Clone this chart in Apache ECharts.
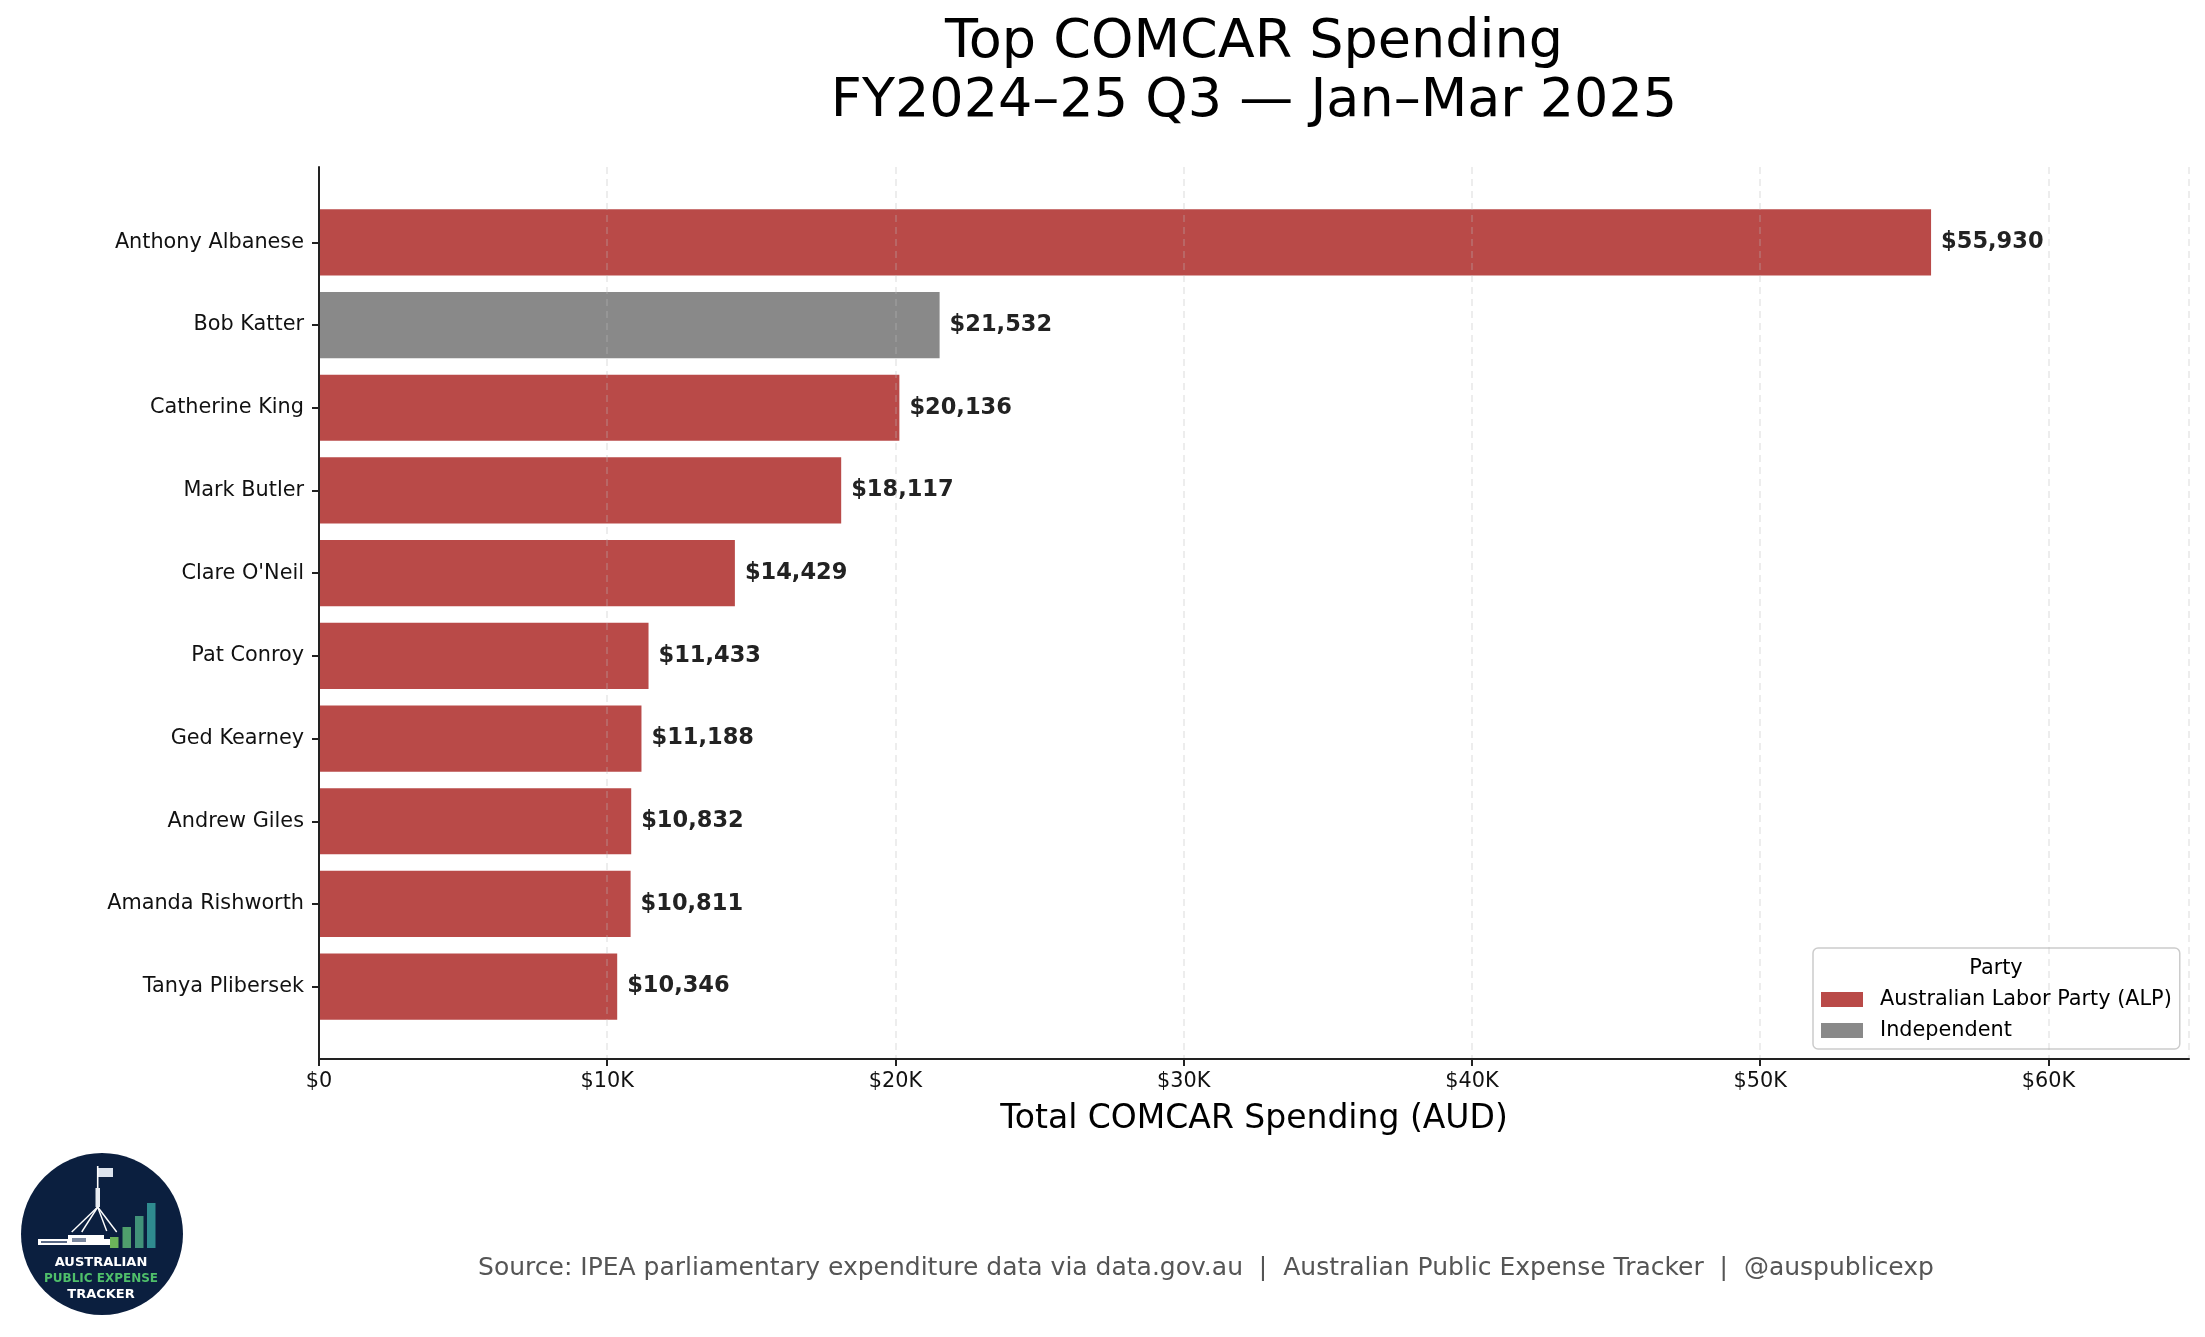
<!DOCTYPE html>
<html>
<head>
<meta charset="utf-8">
<script src="https://cdn.jsdelivr.net/npm/echarts@6/dist/echarts.min.js"></script>
<style>
html,body{margin:0;padding:0;background:#fff;}
#chart{width:2205px;height:1337px;}
</style>
</head>
<body>
<div id="chart"></div>
<script>
// ---- Data ----
const members = ["Anthony Albanese","Bob Katter","Catherine King","Mark Butler","Clare O'Neil","Pat Conroy","Ged Kearney","Andrew Giles","Amanda Rishworth","Tanya Plibersek"];
const spending = [55930, 21532, 20136, 18117, 14429, 11433, 11188, 10832, 10811, 10346];
const memberParty = ["ALP","IND","ALP","ALP","ALP","ALP","ALP","ALP","ALP","ALP"];
const partyKeys = ["ALP","IND"];
const partyLabels = ["Australian Labor Party (ALP)","Independent"];
const partyColors = ["#B94A48","#898989"];
const xTickValues = [0, 10000, 20000, 30000, 40000, 50000, 60000];
const xTickLabels = ["$0","$10K","$20K","$30K","$40K","$50K","$60K"];

const FONT = "DejaVu Sans";
const xMax = 64879;

function fmtTick(v){
  const i = xTickValues.indexOf(v);
  return i >= 0 ? xTickLabels[i] : "";
}

const series = partyKeys.map((p, k) => ({
  name: partyLabels[k],
  type: "bar",
  stack: "total",
  xAxisIndex: 0,
  yAxisIndex: 0,
  barCategoryGap: "20%",
  itemStyle: { color: partyColors[k] },
  data: spending.map((v, i) => memberParty[i] === p ? v : null),
  label: {
    show: true,
    position: "right",
    distance: 10,
    fontFamily: FONT,
    fontWeight: "bold",
    fontSize: 22.5,
    color: "#222",
    formatter: (prm) => prm.value == null ? "" : "$" + Number(prm.value).toLocaleString("en-US")
  },
  z: 2
}));

const chart = echarts.init(document.getElementById("chart"), null, {renderer: "canvas"});

const option = {
  backgroundColor: "#ffffff",
  animation: false,
  textStyle: { fontFamily: FONT },
  title: [
    {
      text: "Top COMCAR Spending\nFY2024–25 Q3 — Jan–Mar 2025",
      left: 1254, top: 13, textAlign: "center", padding: 0,
      textStyle: { fontFamily: FONT, fontSize: 54, fontWeight: "normal", color: "#000", lineHeight: 59 }
    },
    {
      text: "Party",
      left: 1996, top: 957, textAlign: "center", padding: 0,
      textStyle: { fontFamily: FONT, fontSize: 20.8, fontWeight: "normal", color: "#000", lineHeight: 24 }
    },
    {
      text: "Source: IPEA parliamentary expenditure data via data.gov.au  |  Australian Public Expense Tracker  |  @auspublicexp",
      left: 1206, top: 1253, textAlign: "center", padding: 0,
      textStyle: { fontFamily: FONT, fontSize: 25, fontWeight: "normal", color: "#555", lineHeight: 30 }
    }
  ],
  legend: {
    orient: "vertical",
    left: 1813, top: 948,
    padding: [41, 8, 8, 8],
    itemWidth: 42, itemHeight: 15, itemGap: 10,
    icon: "rect",
    backgroundColor: "#fff",
    borderColor: "#cccccc", borderWidth: 1.5, borderRadius: 5,
    data: partyLabels,
    textStyle: { fontFamily: FONT, fontSize: 20.8, color: "#000", lineHeight: 21, padding: [0, 0, 0, 12] }
  },
  grid: [
    { left: 319, right: 16, top: 201, bottom: 309, containLabel: false },
    { left: 319, right: 16, top: 167, bottom: 278, containLabel: false }
  ],
  xAxis: [
    { type: "value", gridIndex: 0, min: 0, max: xMax, show: false },
    {
      type: "value", gridIndex: 1, min: 0, max: xMax, interval: 10000, z: 5,
      axisLine: { show: true, lineStyle: { color: "#222", width: 2 } },
      axisTick: { show: true, length: 7, lineStyle: { color: "#222", width: 2 } },
      axisLabel: { show: true, margin: 12, fontFamily: FONT, fontSize: 20.8, color: "#111", formatter: fmtTick, showMaxLabel: false },
      splitLine: { show: true, lineStyle: { color: "rgba(190,190,190,0.35)", width: 1.5, type: [7, 5] } },
      name: "Total COMCAR Spending (AUD)",
      nameLocation: "middle", nameGap: 44,
      nameTextStyle: { fontFamily: FONT, fontSize: 33, color: "#000" }
    }
  ],
  yAxis: [
    {
      type: "category", gridIndex: 0, inverse: true, data: members,
      axisLine: { show: false },
      axisTick: { show: true, alignWithLabel: true, length: 7, lineStyle: { color: "#222", width: 2 } },
      axisLabel: { show: true, margin: 15, fontFamily: FONT, fontSize: 20.8, color: "#111" },
      splitLine: { show: false }
    },
    {
      type: "value", gridIndex: 1, min: 0, max: 1, z: 5,
      axisLine: { show: true, lineStyle: { color: "#222", width: 2 } },
      axisTick: { show: false }, axisLabel: { show: false }, splitLine: { show: false }
    }
  ],
  series: series,
  graphic: [
    { type: "circle", shape: { cx: 102, cy: 1234, r: 81 }, style: { fill: "#0b1f3f" }, z: 10 },
    // flag & pole
    { type: "rect", shape: { x: 98, y: 1168, width: 15, height: 9 }, style: { fill: "#dde4ee" }, z: 11 },
    { type: "line", shape: { x1: 97.7, y1: 1166, x2: 97.7, y2: 1207 }, style: { stroke: "#ffffff", lineWidth: 1.6 }, z: 11 },
    { type: "rect", shape: { x: 95.5, y: 1188, width: 4.5, height: 19 }, style: { fill: "#e8ecf2" }, z: 11 },
    { type: "line", shape: { x1: 97.7, y1: 1207, x2: 71.7, y2: 1232 }, style: { stroke: "#ffffff", lineWidth: 1.4 }, z: 11 },
    { type: "line", shape: { x1: 97.7, y1: 1207, x2: 81.7, y2: 1232 }, style: { stroke: "#ffffff", lineWidth: 1.4 }, z: 11 },
    { type: "line", shape: { x1: 97.7, y1: 1207, x2: 106.7, y2: 1231 }, style: { stroke: "#ffffff", lineWidth: 1.4 }, z: 11 },
    { type: "line", shape: { x1: 97.7, y1: 1207, x2: 116.7, y2: 1232 }, style: { stroke: "#ffffff", lineWidth: 1.4 }, z: 11 },
    // building
    { type: "rect", shape: { x: 38, y: 1239, width: 72, height: 6 }, style: { fill: "#ffffff" }, z: 11 },
    { type: "rect", shape: { x: 68, y: 1235, width: 36, height: 6 }, style: { fill: "#ffffff" }, z: 11 },
    { type: "rect", shape: { x: 41, y: 1241, width: 26, height: 2 }, style: { fill: "#5a6a86" }, z: 12 },
    { type: "rect", shape: { x: 72, y: 1238, width: 14, height: 4 }, style: { fill: "#7a879e" }, z: 12 },
    // bars
    { type: "rect", shape: { x: 110, y: 1237, width: 8.5, height: 11 }, style: { fill: "#6cb35a" }, z: 11 },
    { type: "rect", shape: { x: 122.5, y: 1227, width: 8.5, height: 21 }, style: { fill: "#4f9f6c" }, z: 11 },
    { type: "rect", shape: { x: 135, y: 1216, width: 8.5, height: 32 }, style: { fill: "#419279" }, z: 11 },
    { type: "rect", shape: { x: 147, y: 1203, width: 8.5, height: 45 }, style: { fill: "#2f8b8f" }, z: 11 },
    // texts
    { type: "text", x: 101, y: 1263, style: { text: "AUSTRALIAN", fill: "#ffffff", font: "bold 13px 'DejaVu Sans'", align: "center", verticalAlign: "middle" }, z: 11 },
    { type: "text", x: 101, y: 1279, style: { text: "PUBLIC EXPENSE", fill: "#4fbf6a", font: "bold 12px 'DejaVu Sans'", align: "center", verticalAlign: "middle" }, z: 11 },
    { type: "text", x: 101, y: 1295, style: { text: "TRACKER", fill: "#ffffff", font: "bold 13px 'DejaVu Sans'", align: "center", verticalAlign: "middle" }, z: 11 }
  ]
};

chart.setOption(option);
</script>
</body>
</html>
